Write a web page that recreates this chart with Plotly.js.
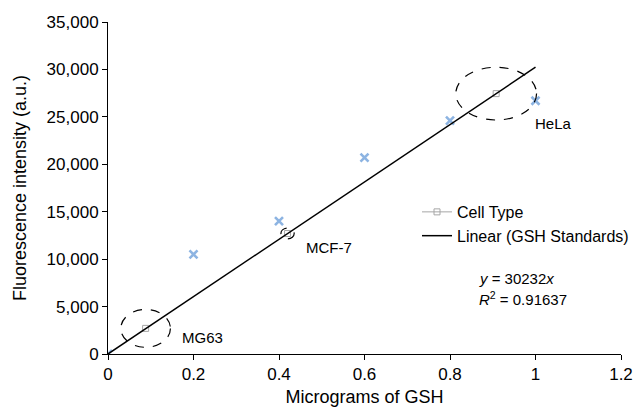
<!DOCTYPE html>
<html>
<head>
<meta charset="utf-8">
<script src="https://cdn.plot.ly/plotly-3.0.1.min.js"></script>
<style>html,body{margin:0;padding:0;background:#fff;}#chart{width:634px;height:411px;}</style>
</head>
<body>
<div id="chart"></div>
<script>
// GSH standards
const stdX = [0, 0.2, 0.4, 0.6, 0.8, 1.0];
const stdY = [0, 10500, 14000, 20700, 24600, 26700];
// Cell types
const cellNames = ["MG63", "MCF-7", "HeLa"];
const cellX = [0.088, 0.42, 0.908];
const cellY = [2700, 12700, 27450];
// Linear fit
const slope = 30232;
const r2 = "0.91637";
const fitX = [0, 1.0];
const fitY = fitX.map(v => slope * v);
const xTicks = [0, 0.2, 0.4, 0.6, 0.8, 1, 1.2];
const yTicks = [0, 5000, 10000, 15000, 20000, 25000, 30000, 35000];

// interleave nulls so the cell-type line is never drawn but shows in legend
const cX = [], cY = [];
cellX.forEach((v, i) => { if (i) { cX.push(null); cY.push(null); } cX.push(v); cY.push(cellY[i]); });

const F = "Liberation Sans, Arial, sans-serif";
const traces = [
  {x: stdX, y: stdY, mode: 'markers', type: 'scatter', showlegend: false,
   marker: {symbol: 'x-thin-open', size: 8, color: '#8db4e2', line: {width: 2.6, color: '#8db4e2'}}},
  {x: cX, y: cY, mode: 'lines+markers', type: 'scatter', name: 'Cell Type', connectgaps: false,
   line: {color: '#a6a6a6', width: 1}, marker: {symbol: 'square-open', size: 6, color: '#a6a6a6', line: {width: 1}}},
  {x: fitX, y: fitY, mode: 'lines', type: 'scatter', name: 'Linear (GSH Standards)',
   line: {color: '#000', width: 1.5}}
];

// dashed ellipses around cell-type points (half-widths in data units)
const ell = [[0.058, 1990], [0.0155, 565], [0.0945, 2780]];
const shapes = cellX.map((v, i) => ({type: 'circle', xref: 'x', yref: 'y',
  x0: v - ell[i][0], x1: v + ell[i][0], y0: cellY[i] - ell[i][1], y1: cellY[i] + ell[i][1],
  line: {color: '#000', width: 1.2, dash: 'dash'}}));

const labelPos = [[0.168, 1780], [0.458, 11220], [0.994, 24250]];
const annotations = cellNames.map((n, i) => ({x: labelPos[i][0], y: labelPos[i][1], xref: 'x', yref: 'y',
  text: n, showarrow: false, xanchor: 'left', yanchor: 'middle', font: {family: F, size: 15, color: '#000'}}));
annotations.push({x: 0.862, y: 8000, xref: 'x', yref: 'y', xanchor: 'left', yanchor: 'middle', showarrow: false,
  text: '<i>y</i> = ' + slope + '<i>x</i>', font: {family: F, size: 15, color: '#000'}});
annotations.push({x: 0.862, y: 5850, xref: 'x', yref: 'y', xanchor: 'left', yanchor: 'middle', showarrow: false,
  text: '<i>R</i><sup>2</sup> = ' + r2, font: {family: F, size: 15, color: '#000'}});

const layout = {
  width: 634, height: 411,
  margin: {l: 108, r: 0, t: 22, b: 57},
  paper_bgcolor: '#fff', plot_bgcolor: '#fff',
  font: {family: F, size: 17, color: '#000'},
  xaxis: {domain: [0, 513 / 526], range: [0, 1.2], tickvals: xTicks, ticktext: xTicks.map(String), showgrid: false, zeroline: false,
    showline: true, linecolor: '#000', linewidth: 1, ticks: 'outside', ticklen: 5, tickcolor: '#000',
    tickfont: {family: F, size: 17}, title: {text: 'Micrograms of GSH', font: {family: F, size: 18}, standoff: 6}},
  yaxis: {range: [0, 35000], tickvals: yTicks, ticktext: yTicks.map(v => v.toLocaleString('en-US')), showgrid: false,
    zeroline: false, showline: true, linecolor: '#000', linewidth: 1, ticks: 'outside', ticklen: 5, tickcolor: '#000',
    tickfont: {family: F, size: 17}, title: {text: 'Fluorescence intensity (a.u.)', font: {family: F, size: 18}, standoff: 15}},
  legend: {x: 1, y: 0.479, xanchor: 'right', yanchor: 'top',
    bgcolor: 'rgba(0,0,0,0)', font: {family: F, size: 16, color: '#000'}, itemwidth: 30, tracegroupgap: 0},
  shapes: shapes,
  annotations: annotations,
  showlegend: true
};
Plotly.newPlot('chart', traces, layout, {displayModeBar: false, staticPlot: true});
</script>
</body>
</html>
